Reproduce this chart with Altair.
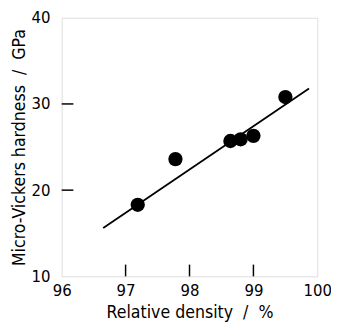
import altair as alt
import pandas as pd

# data
density = [97.19, 97.78, 98.64, 98.80, 99.00, 99.50]
hardness = [18.3, 23.6, 25.7, 25.9, 26.3, 30.8]
fit_density = [96.65, 99.87]
fit_hardness = [15.6, 31.8]
x_ticks = [96, 97, 98, 99, 100]
y_ticks = [10, 20, 30, 40]
inner_x_ticks = [97, 98, 99]
inner_y_ticks = [20, 30]

W, H = 262, 265
font = "Liberation Sans Narrow, DejaVu Sans Condensed, sans-serif"
SP = "\u00a0" * 2

xscale = alt.Scale(domain=[96, 100], nice=False, zero=False)
yscale = alt.Scale(domain=[10, 40], nice=False, zero=False)

xaxis = alt.Axis(title=f"Relative density{SP}/{SP}%", values=x_ticks, ticks=False,
                 domain=False, grid=False, labelFlush=False, labelFontSize=17,
                 labelPadding=7, titleFontSize=18, titlePadding=5, labelFont=font,
                 titleFont=font, titleFontWeight=500, labelFontWeight=500,
                 labelColor="black", titleColor="black", format="d")
yaxis = alt.Axis(title=f"Micro-Vickers hardness{SP}/{SP}GPa", values=y_ticks,
                 ticks=False, domain=False, grid=False, labelFlush=False,
                 labelFontSize=17, labelPadding=12, titleFontSize=18, titlePadding=3,
                 labelFont=font, titleFont=font, titleFontWeight=500,
                 labelFontWeight=500, labelColor="black", titleColor="black",
                 format="d")

pts = pd.DataFrame({"x": density, "y": hardness})
fit = pd.DataFrame({"x": fit_density, "y": fit_hardness})
xt = pd.DataFrame({"x": inner_x_ticks})
yt = pd.DataFrame({"y": inner_y_ticks})

line = alt.Chart(fit).mark_line(color="black", strokeWidth=1.8).encode(
    x=alt.X("x:Q", scale=xscale, axis=xaxis),
    y=alt.Y("y:Q", scale=yscale, axis=yaxis),
)
points = alt.Chart(pts).mark_circle(size=215, color="black", opacity=1).encode(
    x=alt.X("x:Q", scale=xscale, axis=xaxis),
    y=alt.Y("y:Q", scale=yscale, axis=yaxis),
)
xtick_rules = alt.Chart(xt).mark_rule(color="black", strokeWidth=1.5).encode(
    x=alt.X("x:Q", scale=xscale, axis=xaxis),
    y=alt.value(H), y2=alt.value(H - 12),
)
ytick_rules = alt.Chart(yt).mark_rule(color="black", strokeWidth=1.5).encode(
    y=alt.Y("y:Q", scale=yscale, axis=yaxis),
    x=alt.value(0), x2=alt.value(12),
)

chart = alt.layer(line, points, xtick_rules, ytick_rules).properties(
    width=W, height=H,
    autosize=alt.AutoSizeParams(type="none"),
    padding={"left": 55, "top": 6, "right": 14, "bottom": 51},
).configure_view(stroke="black", strokeWidth=1.5).configure(background="white")

chart.save("out.html", embed_options={"renderer": "svg", "actions": False})
